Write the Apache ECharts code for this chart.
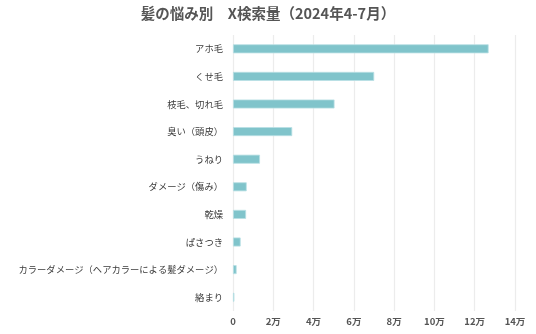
<!DOCTYPE html>
<html><head><meta charset="utf-8">
<script src="https://cdn.jsdelivr.net/npm/echarts@6/dist/echarts.min.js"></script>
<style>html,body{margin:0;padding:0;background:#fff}#c{width:536px;height:334px}</style>
</head><body><div id="c"></div>
<script>
const titleText = '髪の悩み別　X検索量（2024年4-7月）';
const categories = ['アホ毛','くせ毛','枝毛、切れ毛','臭い（頭皮）','うねり','ダメージ（傷み）','乾燥','ぱさつき','カラーダメージ（ヘアカラーによる髪ダメージ）','絡まり'];
const searchVolume = [126900, 70100, 50400, 29400, 13400, 6800, 6500, 3800, 1800, 700];
const xTicks = [0, 20000, 40000, 60000, 80000, 100000, 120000, 140000];

const chart = echarts.init(document.getElementById('c'));
const font = '"Noto Sans CJK JP", "Noto Sans", sans-serif';
chart.setOption({
  animation: false,
  title: {
    text: titleText, left: 'center', top: 1,
    textStyle: {fontFamily: font, fontSize: 14.5, fontWeight: 'bold', color: '#555'}
  },
  grid: {left: 233, right: 21, top: 35, bottom: 23},
  xAxis: {
    type: 'value', min: xTicks[0], max: xTicks[xTicks.length-1], interval: xTicks[1]-xTicks[0],
    axisLine: {show: false}, axisTick: {show: false},
    splitLine: {lineStyle: {color: '#ececec', width: 1.2}},
    axisLabel: {fontFamily: font, fontSize: 9.5, color: '#555', fontWeight: 'bold', margin: 6,
      formatter: v => v === 0 ? '0' : (v/10000) + '万'}
  },
  yAxis: {
    type: 'category', data: categories, inverse: true,
    axisLine: {show: false}, axisTick: {show: false},
    axisLabel: {fontFamily: font, fontSize: 9.3, color: '#3a3a3a', margin: 10}
  },
  series: [{
    type: 'bar', data: searchVolume, barWidth: 9,
    itemStyle: {color: '#80c4cb', borderColor: '#b9e0e4', borderWidth: 0.8}
  }]
});
</script></body></html>
